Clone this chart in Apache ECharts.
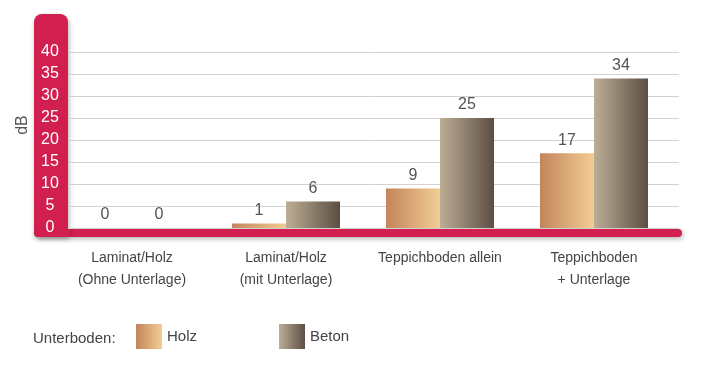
<!DOCTYPE html>
<html>
<head>
<meta charset="utf-8">
<script src="https://cdn.jsdelivr.net/npm/echarts@6/dist/echarts.min.js"></script>
<style>html,body{margin:0;padding:0;background:#fff;}#c{width:701px;height:372px;}</style>
</head>
<body>
<div id="c"></div>
<script>
const categories = ['Laminat/Holz\n(Ohne Unterlage)', 'Laminat/Holz\n(mit Unterlage)', 'Teppichboden allein', 'Teppichboden\n+ Unterlage'];
const holz = [0, 1, 9, 17];
const beton = [0, 6, 25, 34];
const seriesNames = ['Holz', 'Beton'];
const legendTitle = 'Unterboden:';
const yName = 'dB';

const font = 'Liberation Sans';
const red = '#d11f4f';
const holzGrad = {type:'linear', x:0, y:0, x2:1, y2:0, colorStops:[{offset:0,color:'#c4845c'},{offset:1,color:'#f1cd92'}]};
const betonGrad = {type:'linear', x:0, y:0, x2:1, y2:0, colorStops:[{offset:0,color:'#bcae94'},{offset:1,color:'#5c4e44'}]};

const chart = echarts.init(document.getElementById('c'), null, {renderer:'canvas'});
const labelStyle = {show:true, position:'top', distance:5, color:'#555', fontSize:16, fontFamily:font};
const shadow = {shadowBlur:5, shadowColor:'rgba(0,0,0,0.3)', shadowOffsetY:2, shadowOffsetX:1};
chart.setOption({
  animation:false,
  title:{text:legendTitle, left:28, top:326, textStyle:{color:'#444', fontSize:15, fontWeight:'normal', fontFamily:font}},
  legend:{left:131, top:319, itemWidth:26, itemHeight:25, itemGap:82, icon:'rect',
    data:seriesNames, textStyle:{color:'#444', fontSize:15, fontFamily:font}},
  grid:[
    {left:68, right:22, top:52, bottom:144},
    {left:55, width:616, top:52, bottom:144}
  ],
  xAxis:[
    {gridIndex:0, type:'category', show:false, data:categories},
    {gridIndex:1, type:'category', data:categories, axisLine:{show:false}, axisTick:{show:false},
      axisLabel:{color:'#444', fontSize:14, lineHeight:22, margin:19, fontFamily:font, interval:0}}
  ],
  yAxis:[
    {gridIndex:0, type:'value', min:0, max:40, interval:5, z:1,
      axisLine:{show:false}, axisTick:{show:false},
      axisLabel:{color:'#fff', fontSize:16, align:'center', margin:18, fontFamily:font},
      splitLine:{lineStyle:{color:'#d2d2d2', width:1}}},
    {gridIndex:1, type:'value', min:0, max:40, interval:5, show:false, splitLine:{show:false}}
  ],
  series:[
    {name:seriesNames[0], type:'bar', xAxisIndex:1, yAxisIndex:1, data:holz, barWidth:54, barGap:'0%',
      itemStyle:{color:holzGrad}, label:labelStyle},
    {name:seriesNames[1], type:'bar', xAxisIndex:1, yAxisIndex:1, data:beton, barWidth:54, barGap:'0%',
      itemStyle:{color:betonGrad}, label:labelStyle}
  ],
  graphic:[
    {type:'rect', z:0, shape:{x:34, y:229, width:648, height:8, r:4}, style:Object.assign({fill:red}, shadow)},
    {type:'rect', z:0, shape:{x:34, y:14, width:34, height:223, r:[8,8,0,6]}, style:Object.assign({fill:red}, shadow)},
    {type:'rect', z:0, shape:{x:40, y:229, width:30, height:8}, style:{fill:red}},
    {type:'text', z:0, x:23, y:125, rotation:Math.PI/2,
      style:{text:yName, fill:'#555', fontSize:16, fontFamily:font, align:'center', verticalAlign:'middle'}}
  ]
});
</script>
</body>
</html>
